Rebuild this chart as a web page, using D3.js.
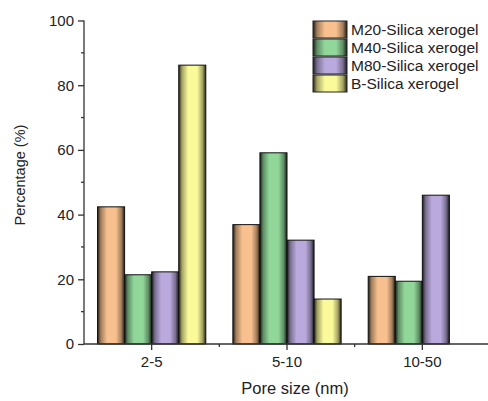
<!DOCTYPE html>
<html><head><meta charset="utf-8">
<script src="https://cdn.jsdelivr.net/npm/d3@7"></script>
<style>body{margin:0;background:#fff}svg{display:block;font-family:"Liberation Sans",Arial,sans-serif}</style>
</head><body><svg id="c" width="488" height="401"></svg>
<script>
const categories = ["2-5", "5-10", "10-50"];
const seriesNames = ["M20-Silica xerogel", "M40-Silica xerogel", "M80-Silica xerogel", "B-Silica xerogel"];
const m20 = [42.4, 36.9, 20.9];
const m40 = [21.4, 59.1, 19.4];
const m80 = [22.3, 32.1, 46.0];
const bSil = [86.2, 13.9, null];
const yTicks = [0, 20, 40, 60, 80, 100];
const colors = ["#f8c08e", "#92d79a", "#b9a9dc", "#fbfa9a"];

const series = [m20, m40, m80, bSil];
const svg = d3.select("#c");
const x = d3.scaleBand().domain(categories).range([84, 490]).paddingInner(0).paddingOuter(0);
const y = d3.scaleLinear().domain([0, 100]).range([344, 20.5]);
const inner = d3.scaleBand().domain(d3.range(4)).range([0, x.bandwidth() * 0.8]);

const defs = svg.append("defs");
colors.forEach((c, i) => {
  const dark = d3.interpolateRgb(c, "#000")(0.85);
  const mid = d3.interpolateRgb(c, "#000")(0.35);
  const g = defs.append("linearGradient").attr("id", "g" + i).attr("x1", "0").attr("x2", "1").attr("y1", "0").attr("y2", "0");
  g.append("stop").attr("offset", "0%").attr("stop-color", dark);
  g.append("stop").attr("offset", "12%").attr("stop-color", mid);
  g.append("stop").attr("offset", "35%").attr("stop-color", c);
  g.append("stop").attr("offset", "68%").attr("stop-color", c);
  g.append("stop").attr("offset", "88%").attr("stop-color", mid);
  g.append("stop").attr("offset", "100%").attr("stop-color", dark);
});

// bars
categories.forEach((cat, ci) => {
  const gx = x(cat) + x.bandwidth() * 0.1;
  series.forEach((s, si) => {
    const v = s[ci];
    if (v == null) return;
    svg.append("rect")
      .attr("x", gx + inner(si)).attr("y", y(v))
      .attr("width", inner.bandwidth()).attr("height", y(0) - y(v))
      .attr("fill", `url(#g${si})`).attr("stroke", "#111").attr("stroke-width", 1);
  });
});

// y axis
const yAxis = svg.append("g").attr("transform", "translate(84,0)")
  .call(d3.axisLeft(y).tickValues(yTicks).tickSize(6).tickPadding(4));
yAxis.select(".domain").attr("stroke", "#333").attr("stroke-width", 1.3).attr("d", `M0,${y(100)}V${y(0)}`);
yAxis.selectAll(".tick line").attr("stroke", "#333").attr("stroke-width", 1.3);
yAxis.selectAll("text").attr("font-size", 15).attr("fill", "#222");
const yMinor = [10, 30, 50, 70, 90];
svg.append("g").selectAll("line").data(yMinor).join("line")
  .attr("x1", 81).attr("x2", 84).attr("y1", d => y(d)).attr("y2", d => y(d))
  .attr("stroke", "#333").attr("stroke-width", 1.3);

// x axis
const xAxis = svg.append("g").attr("transform", `translate(0,${y(0)})`)
  .call(d3.axisBottom(x).tickSize(6).tickPadding(6));
xAxis.select(".domain").attr("stroke", "#333").attr("stroke-width", 1.3).attr("d", "M84,0H488");
xAxis.selectAll(".tick line").attr("stroke", "#333").attr("stroke-width", 1.3);
xAxis.selectAll("text").attr("font-size", 15).attr("fill", "#222");
svg.append("g").selectAll("line").data(categories.slice(1)).join("line")
  .attr("x1", d => x(d)).attr("x2", d => x(d)).attr("y1", y(0)).attr("y2", y(0) + 3)
  .attr("stroke", "#333").attr("stroke-width", 1.3);

// titles
svg.append("text").attr("transform", "translate(25,175) rotate(-90)").attr("text-anchor", "middle")
  .attr("font-size", 14.5).attr("fill", "#222").text("Percentage (%)");
svg.append("text").attr("x", 295).attr("y", 394).attr("text-anchor", "middle")
  .attr("font-size", 16.5).attr("fill", "#222").text("Pore size (nm)");

// legend
const lg = svg.append("g");
seriesNames.forEach((n, i) => {
  const ty = 21 + i * 18;
  lg.append("rect").attr("x", 313).attr("y", ty).attr("width", 34).attr("height", 17)
    .attr("fill", `url(#g${i})`).attr("stroke", "#222").attr("stroke-width", 1);
  lg.append("text").attr("x", 351).attr("y", ty + 14).attr("font-size", 15.5).attr("fill", "#222").text(n);
});
</script></body></html>
